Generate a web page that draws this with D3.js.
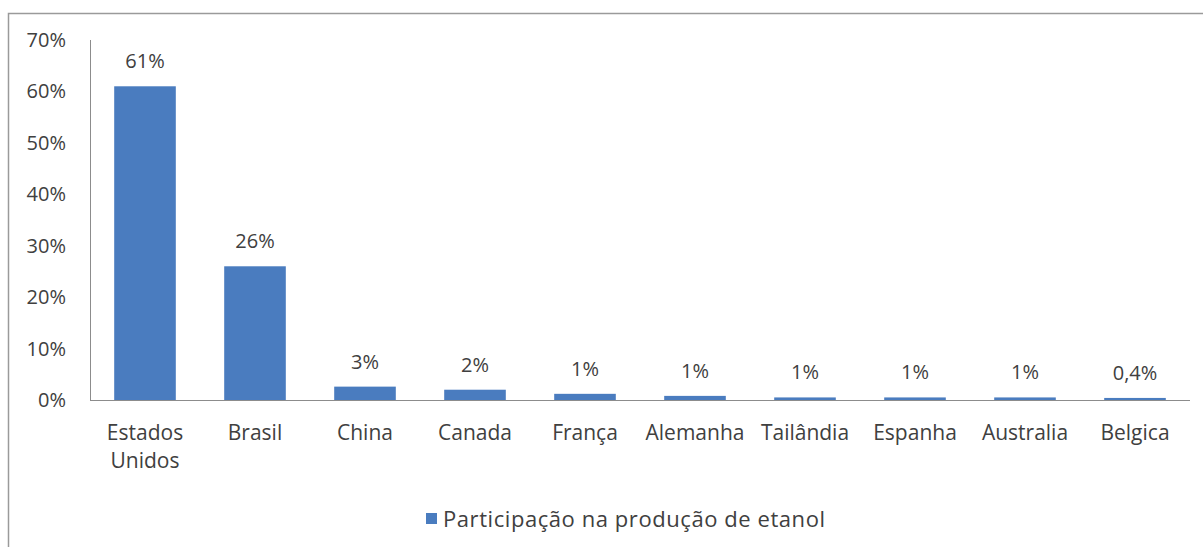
<!DOCTYPE html>
<html>
<head>
<meta charset="utf-8">
<script src="https://cdn.jsdelivr.net/npm/d3@7"></script>
<style>
  html, body { margin: 0; padding: 0; background: #fff; }
  svg { display: block; font-family: "Open Sans", "Noto Sans", sans-serif; }
</style>
</head>
<body>
<svg id="chart" width="1203" height="547"></svg>
<script>
// Chart data
const countries = [["Estados", "Unidos"], ["Brasil"], ["China"], ["Canada"], ["França"],
                   ["Alemanha"], ["Tailândia"], ["Espanha"], ["Australia"], ["Belgica"]];
const shares = [61, 26, 2.6, 2.0, 1.2, 0.8, 0.5, 0.5, 0.5, 0.4];
const shareLabels = ["61%", "26%", "3%", "2%", "1%", "1%", "1%", "1%", "1%", "0,4%"];
const yTicks = [0, 10, 20, 30, 40, 50, 60, 70];
const seriesName = "Participação na produção de etanol";

const svg = d3.select('#chart');
const barColor = '#4a7cbf';
const textColor = '#404040';

// Outer frame (only top and left edges visible in the picture)
svg.append('rect')
    .attr('x', 8.5).attr('y', 13.5)
    .attr('width', 1220).attr('height', 560)
    .attr('fill', 'none')
    .attr('stroke', '#9a9a9a')
    .attr('stroke-width', 1.5);

const xScale = d3.scaleBand()
    .domain(countries.map((c, i) => i))
    .range([90, 1190])
    .paddingInner(0.44)
    .paddingOuter(0.22);

const yScale = d3.scaleLinear()
    .domain([0, 70])
    .range([400, 40]);

// Y axis labels
svg.append('g')
    .selectAll('text')
    .data(yTicks)
    .join('text')
    .attr('x', 66)
    .attr('y', d => yScale(d))
    .attr('dy', '0.35em')
    .attr('text-anchor', 'end')
    .attr('fill', textColor)
    .style('font-size', '20px')
    .text(d => d + '%');

// Bars
svg.append('g')
    .selectAll('rect')
    .data(shares)
    .join('rect')
    .attr('x', (d, i) => xScale(i))
    .attr('y', d => yScale(d))
    .attr('width', xScale.bandwidth())
    .attr('height', d => yScale(0) - yScale(d))
    .attr('fill', barColor);

// Axis lines
svg.append('line')
    .attr('x1', 90.5).attr('x2', 90.5)
    .attr('y1', yScale(70)).attr('y2', yScale(0))
    .attr('stroke', '#8c8c8c').attr('stroke-width', 1);
svg.append('line')
    .attr('x1', 90).attr('x2', 1190)
    .attr('y1', yScale(0) + 0.5).attr('y2', yScale(0) + 0.5)
    .attr('stroke', '#8c8c8c').attr('stroke-width', 1);

// Data labels
svg.append('g')
    .selectAll('text')
    .data(shares)
    .join('text')
    .attr('x', (d, i) => xScale(i) + xScale.bandwidth() / 2)
    .attr('y', d => yScale(d) - 25)
    .attr('dy', '0.35em')
    .attr('text-anchor', 'middle')
    .attr('fill', textColor)
    .style('font-size', '20px')
    .text((d, i) => shareLabels[i]);

// Category labels
const catGroup = svg.append('g');
countries.forEach((lines, i) => {
    const cx = xScale(i) + xScale.bandwidth() / 2;
    const t = catGroup.append('text')
        .attr('x', cx)
        .attr('y', 433)
        .attr('text-anchor', 'middle')
        .attr('fill', textColor)
        .style('font-size', '21px');
    lines.forEach((line, j) => {
        t.append('tspan')
            .attr('x', cx)
            .attr('dy', j === 0 ? '0.35em' : '1.33em')
            .text(line);
    });
});

// Legend
const legend = svg.append('g').attr('transform', 'translate(426, 519)');
legend.append('rect')
    .attr('x', 0).attr('y', -6)
    .attr('width', 11).attr('height', 11)
    .attr('fill', barColor);
legend.append('text')
    .attr('x', 17)
    .attr('y', 0)
    .attr('dy', '0.35em')
    .attr('fill', textColor)
    .style('font-size', '22px')
    .attr('textLength', 382)
    .text(seriesName);
</script>
</body>
</html>
